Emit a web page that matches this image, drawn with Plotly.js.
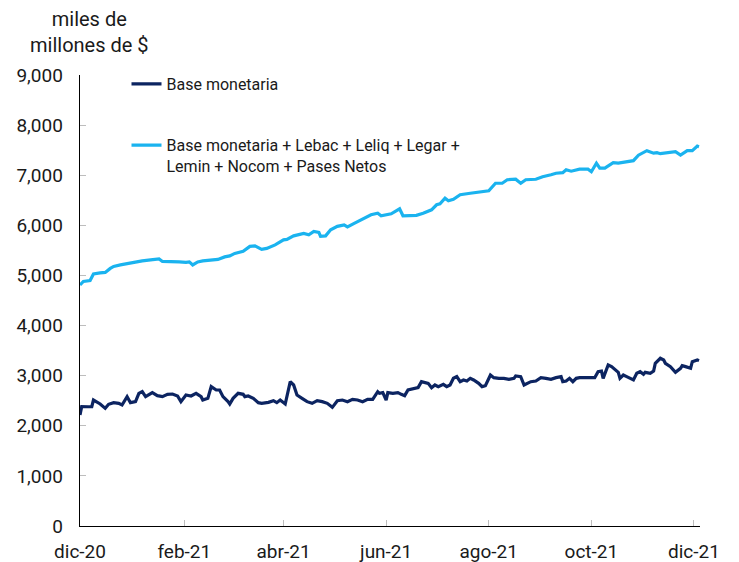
<!DOCTYPE html>
<html>
<head>
<meta charset="utf-8">
<script src="https://cdn.plot.ly/plotly-3.0.1.min.js"></script>
<style>
  html, body { margin: 0; padding: 0; background: #ffffff; }
  #chart { width: 739px; height: 562px; }
</style>
</head>
<body>
<div id="chart"></div>
<script>
// ---------- DATA ----------
var seriesNames = [
  "Base monetaria",
  "Base monetaria + Lebac + Leliq + Legar +<br>Lemin + Nocom + Pases Netos"
];

// Base monetaria (miles de millones de $)
var datesBase = [
  "2020-12-01","2020-12-02","2020-12-06","2020-12-08","2020-12-09","2020-12-12","2020-12-13","2020-12-16",
  "2020-12-18","2020-12-21","2020-12-24","2020-12-26","2020-12-29","2020-12-31","2021-01-03","2021-01-05",
  "2021-01-07","2021-01-09","2021-01-11","2021-01-13","2021-01-16","2021-01-19","2021-01-22","2021-01-25",
  "2021-01-28","2021-01-30","2021-02-02","2021-02-05","2021-02-08","2021-02-11","2021-02-12","2021-02-15",
  "2021-02-17","2021-02-20","2021-02-22","2021-02-24","2021-02-27","2021-02-28","2021-03-02","2021-03-05",
  "2021-03-08","2021-03-09","2021-03-11","2021-03-14","2021-03-17","2021-03-19","2021-03-23","2021-03-26",
  "2021-03-28","2021-03-30","2021-04-02","2021-04-05","2021-04-07","2021-04-09","2021-04-12","2021-04-15",
  "2021-04-18","2021-04-21","2021-04-24","2021-04-27","2021-04-30","2021-05-03","2021-05-06","2021-05-09",
  "2021-05-12","2021-05-15","2021-05-18","2021-05-21","2021-05-24","2021-05-27","2021-05-28","2021-05-30",
  "2021-06-01","2021-06-02","2021-06-05","2021-06-08","2021-06-10","2021-06-12","2021-06-14","2021-06-19",
  "2021-06-20","2021-06-22","2021-06-25","2021-06-26","2021-06-28","2021-06-30","2021-07-02","2021-07-05",
  "2021-07-07","2021-07-09","2021-07-11","2021-07-13","2021-07-15","2021-07-17","2021-07-19","2021-07-21",
  "2021-07-23","2021-07-26","2021-07-28","2021-07-30","2021-08-02","2021-08-04","2021-08-07","2021-08-10",
  "2021-08-13","2021-08-16","2021-08-17","2021-08-20","2021-08-22","2021-08-23","2021-08-26","2021-08-29",
  "2021-09-01","2021-09-04","2021-09-07","2021-09-10","2021-09-13","2021-09-14","2021-09-16","2021-09-18",
  "2021-09-20","2021-09-22","2021-09-24","2021-09-27","2021-09-30","2021-10-03","2021-10-05","2021-10-07",
  "2021-10-08","2021-10-11","2021-10-13","2021-10-15","2021-10-17","2021-10-18","2021-10-20","2021-10-22",
  "2021-10-24","2021-10-26","2021-10-28","2021-10-30","2021-11-01","2021-11-02","2021-11-05","2021-11-07",
  "2021-11-08","2021-11-11","2021-11-13","2021-11-14","2021-11-17","2021-11-19","2021-11-20","2021-11-23",
  "2021-11-24","2021-11-26","2021-11-29","2021-11-30","2021-12-03","2021-12-04"
];
var valuesBase = [
  2215,2381,2380,2381,2514,2461,2435,2348,
  2428,2461,2448,2415,2581,2461,2481,2648,
  2681,2581,2614,2661,2601,2581,2628,2634,
  2594,2481,2614,2594,2648,2581,2514,2548,
  2781,2714,2714,2581,2481,2435,2548,2648,
  2628,2581,2594,2548,2461,2448,2468,2501,
  2461,2514,2435,2880,2814,2614,2548,2481,
  2448,2501,2481,2448,2368,2501,2514,2481,
  2528,2514,2481,2528,2528,2681,2648,2661,
  2514,2661,2648,2661,2628,2601,2714,2748,
  2761,2880,2867,2847,2761,2814,2781,2827,
  2781,2814,2947,2980,2880,2914,2894,2947,
  2914,2847,2781,2800,3013,2960,2947,2947,
  2927,2947,2993,2980,2814,2827,2880,2894,
  2960,2947,2927,2960,2980,2880,2894,2947,
  2880,2947,2960,2960,2960,2960,3080,3093,
  2947,3213,3180,3113,3067,2947,3013,2980,
  2947,2914,3047,3080,3027,3067,3047,3093,
  3247,3347,3313,3247,3180,3093,3067,3147,
  3200,3180,3147,3280,3313,3300
];

// Base monetaria + Lebac + Leliq + Legar + Lemin + Nocom + Pases Netos
var datesAmplia = [
  "2020-12-01","2020-12-03","2020-12-07","2020-12-09","2020-12-13","2020-12-16","2020-12-19","2020-12-21",
  "2020-12-25","2020-12-28","2021-01-01","2021-01-07","2021-01-12","2021-01-17","2021-01-19","2021-01-23",
  "2021-01-29","2021-02-02","2021-02-04","2021-02-06","2021-02-09","2021-02-12","2021-02-16","2021-02-21",
  "2021-02-25","2021-02-28","2021-03-03","2021-03-08","2021-03-12","2021-03-15","2021-03-19","2021-03-22",
  "2021-03-27","2021-04-01","2021-04-03","2021-04-07","2021-04-13","2021-04-16","2021-04-19","2021-04-22",
  "2021-04-23","2021-04-26","2021-04-29","2021-05-03","2021-05-07","2021-05-09","2021-05-13","2021-05-18",
  "2021-05-23","2021-05-27","2021-05-29","2021-06-04","2021-06-07","2021-06-09","2021-06-11","2021-06-16",
  "2021-06-19","2021-06-23","2021-06-28","2021-07-01","2021-07-03","2021-07-06","2021-07-08","2021-07-11",
  "2021-07-15","2021-07-21","2021-07-26","2021-08-01","2021-08-05","2021-08-09","2021-08-12","2021-08-17",
  "2021-08-20","2021-08-23","2021-08-29","2021-09-02","2021-09-07","2021-09-10","2021-09-14","2021-09-16",
  "2021-09-19","2021-09-24","2021-09-29","2021-10-01","2021-10-04","2021-10-06","2021-10-09","2021-10-14",
  "2021-10-17","2021-10-22","2021-10-26","2021-10-29","2021-11-03","2021-11-07","2021-11-09","2021-11-11",
  "2021-11-16","2021-11-20","2021-11-23","2021-11-27","2021-11-30","2021-12-03","2021-12-04"
];
var valuesAmplia = [
  4810,4880,4900,5030,5050,5060,5140,5180,
  5210,5230,5260,5290,5310,5330,5280,5280,
  5270,5260,5270,5210,5270,5290,5300,5320,
  5370,5390,5440,5480,5580,5590,5520,5540,
  5610,5710,5720,5790,5840,5810,5880,5860,
  5780,5790,5910,5980,6010,5970,6040,6120,
  6210,6240,6190,6230,6290,6330,6190,6190,
  6200,6240,6310,6410,6430,6540,6490,6520,
  6610,6640,6670,6690,6840,6840,6910,6920,
  6840,6910,6920,6970,7010,7040,7050,7110,
  7080,7120,7120,7070,7240,7140,7140,7250,
  7240,7270,7290,7400,7490,7440,7450,7430,
  7460,7470,7400,7490,7490,7580,7570
];

var xTickVals = ["2020-12-01","2021-02-01","2021-04-01","2021-06-01","2021-08-01","2021-10-01","2021-12-01"];
var xTickText = ["dic-20","feb-21","abr-21","jun-21","ago-21","oct-21","dic-21"];
var yTickVals = [0,1000,2000,3000,4000,5000,6000,7000,8000,9000];
var yTitleText = "miles de<br>millones de $";

// ---------- CHART ----------
var colorBase = "#0c2461";
var colorAmplia = "#1ab3ef";
var FONT = "Roboto, 'Noto Sans', Arial, sans-serif";

var traces = [
  {
    x: datesBase, y: valuesBase, type: "scatter", mode: "lines",
    name: seriesNames[0], legend: "legend",
    line: { color: colorBase, width: 3.2 }
  },
  {
    x: datesAmplia, y: valuesAmplia, type: "scatter", mode: "lines",
    name: seriesNames[1], legend: "legend2",
    line: { color: colorAmplia, width: 3.2 }
  }
];

var layout = {
  width: 739, height: 562,
  margin: { l: 80, r: 39, t: 75, b: 36, pad: 0 },
  paper_bgcolor: "#ffffff", plot_bgcolor: "#ffffff",
  font: { family: FONT, color: "#1a1a1a", size: 19 },
  showlegend: true,
  legend: {
    x: 0.075, y: 1.018, xanchor: "left", yanchor: "top",
    bgcolor: "rgba(0,0,0,0)", borderwidth: 0,
    font: { family: FONT, size: 16, color: "#1a1a1a" },
    valign: "top"
  },
  legend2: {
    x: 0.075, y: 0.882, xanchor: "left", yanchor: "top",
    bgcolor: "rgba(0,0,0,0)", borderwidth: 0,
    font: { family: FONT, size: 16, color: "#1a1a1a" },
    valign: "top"
  },
  xaxis: {
    type: "date",
    range: ["2020-12-01", "2021-12-04 14:00"],
    tickvals: xTickVals, ticktext: xTickText,
    ticks: "inside", ticklen: 6, tickwidth: 1, tickcolor: "#bdbdbd",
    showline: true, linecolor: "#000000", linewidth: 1.3,
    showgrid: false, zeroline: false,
    tickfont: { family: FONT, size: 19, color: "#1a1a1a" },
    ticklabelstandoff: 8,
    fixedrange: true
  },
  yaxis: {
    range: [0, 9000],
    tickvals: yTickVals, tickformat: ",d",
    ticks: "inside", ticklen: 6, tickwidth: 1, tickcolor: "#bdbdbd",
    showline: true, linecolor: "#000000", linewidth: 1.3,
    showgrid: false, zeroline: false,
    tickfont: { family: FONT, size: 19, color: "#1a1a1a" },
    ticklabelstandoff: 12,
    fixedrange: true
  },
  annotations: [
    {
      xref: "paper", yref: "paper",
      x: (89 - 80) / 620, y: 1 + (75 - 32) / 451,
      xanchor: "center", yanchor: "middle",
      text: yTitleText, showarrow: false, align: "center",
      font: { family: FONT, size: 20, color: "#1a1a1a" }
    }
  ]
};

Plotly.newPlot("chart", traces, layout, { displayModeBar: false, staticPlot: true });
</script>
</body>
</html>
